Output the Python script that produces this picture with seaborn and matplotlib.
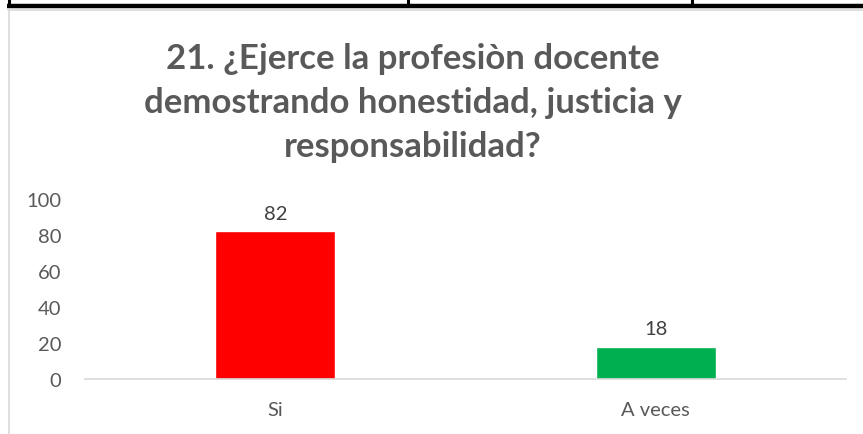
import matplotlib
matplotlib.use("Agg")
import matplotlib.pyplot as plt
from matplotlib.lines import Line2D
import seaborn as sns

# Survey results for question 21
categorias = ["Si", "A veces"]
valores = [82, 18]
colores = ["#FF0000", "#00B050"]
yticks = [0, 20, 40, 60, 80, 100]
titulo = "21. ¿Ejerce la profesiòn docente\ndemostrando honestidad, justicia y\nresponsabilidad?"

sns.set_style("white")
plt.rcParams["font.family"] = ["Lato", "DejaVu Sans"]

W, H = 863, 435
fig = plt.figure(figsize=(W / 100, H / 100), dpi=100)
fig.patch.set_facecolor("white")

# table border of the surrounding document
black = "#000000"
fig.add_artist(Line2D([7 / W, 1], [1 - 7 / H, 1 - 7 / H], color=black, lw=3.2,
                      transform=fig.transFigure, solid_capstyle="butt"))
for xv in (8.5, 408, 692):
    fig.add_artist(Line2D([xv / W, xv / W], [1, 1 - 7 / H], color=black, lw=2.2,
                          transform=fig.transFigure, solid_capstyle="butt"))

# chart-area frame
frame = "#D9D9D9"
fig.add_artist(Line2D([8 / W, 1], [1 - 10.5 / H, 1 - 10.5 / H], color=frame, lw=1.2,
                      transform=fig.transFigure))
fig.add_artist(Line2D([8.5 / W, 8.5 / W], [1 - 10.5 / H, 0], color=frame, lw=1.2,
                      transform=fig.transFigure))

ax = fig.add_axes([85 / W, (H - 380) / H, (846 - 85) / W, 180 / H])
sns.barplot(x=categorias, y=valores, hue=categorias, palette=colores,
            width=0.315, legend=False, ax=ax, saturation=1)

ax.set_ylim(0, 100)
ax.set_xlim(-0.5, 1.5)
ax.set_yticks(yticks)
ax.set_xlabel("")
ax.set_ylabel("")
for s in ("top", "right", "left"):
    ax.spines[s].set_visible(False)
ax.spines["bottom"].set_color(frame)
ax.spines["bottom"].set_linewidth(1.2)
ax.tick_params(axis="both", length=0, labelsize=14.5, labelcolor="#595959")
ax.tick_params(axis="y", pad=17)
ax.tick_params(axis="x", pad=16)

for cont in ax.containers:
    ax.bar_label(cont, fmt="%d", padding=7, fontsize=14.5, color="#404040")

fig.text(413 / W, 1 - 103 / H, titulo, ha="center", va="center",
         fontsize=25, fontweight="bold", color="#595959", linespacing=1.47)

fig.savefig("out.png", dpi=100, facecolor="white")
